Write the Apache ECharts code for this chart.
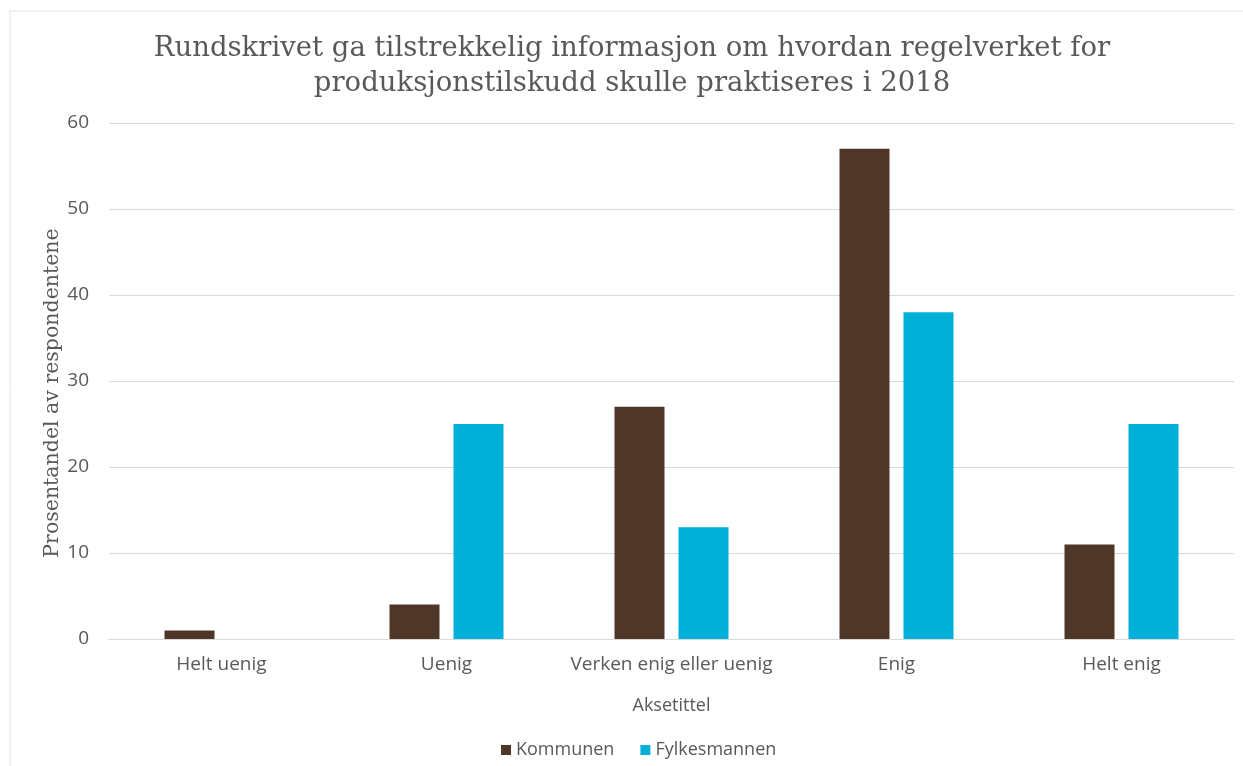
<!DOCTYPE html>
<html><head><meta charset="utf-8">
<script src="https://cdn.jsdelivr.net/npm/echarts@6/dist/echarts.min.js"></script>
<style>html,body{margin:0;padding:0;background:#fff}#c{width:1243px;height:766px}</style>
</head><body><div id="c"></div>
<script>
const categories = ['Helt uenig', 'Uenig', 'Verken enig eller uenig', 'Enig', 'Helt enig'];
const kommunen = [1, 4, 27, 57, 11];
const fylkesmannen = [0, 25, 13, 38, 25];
const yTicks = [0, 10, 20, 30, 40, 50, 60];
const titleText = 'Rundskrivet ga tilstrekkelig informasjon om hvordan regelverket for\nproduksjonstilskudd skulle praktiseres i 2018';
const yName = 'Prosentandel av respondentene';

const chart = echarts.init(document.getElementById('c'), null, {renderer: 'canvas'});
const sans = '"Open Sans", "Liberation Sans", sans-serif';
const serif = '"DejaVu Serif", "Liberation Serif", serif';
chart.setOption({
  animation: false,
  graphic: [
    {type: 'line', shape: {x1: 10, y1: 11, x2: 1243, y2: 11}, style: {stroke: '#e3e3e3', lineWidth: 1}, silent: true},
    {type: 'line', shape: {x1: 10, y1: 11, x2: 10, y2: 766}, style: {stroke: '#e3e3e3', lineWidth: 1}, silent: true},
    {type: 'text', x: 632, y: 66, silent: true,
     style: {text: titleText, fontFamily: serif, fontSize: 27.5, lineHeight: 35, fill: '#595959',
             textAlign: 'center', textVerticalAlign: 'middle'}},
    {type: 'text', x: 53, y: 393, rotation: Math.PI / 2, silent: true,
     style: {text: yName, fontFamily: serif, fontSize: 20.5, fill: '#595959',
             textAlign: 'center', textVerticalAlign: 'middle'}}
  ],
  legend: {
    bottom: 2, left: 496, itemWidth: 10, itemHeight: 10, itemGap: 26,
    icon: 'rect',
    textStyle: {fontFamily: sans, fontSize: 18, color: '#595959'},
    data: ['Kommunen', 'Fylkesmannen']
  },
  grid: {left: 109, right: 9, top: 123, bottom: 127, containLabel: false},
  xAxis: {
    type: 'category', data: categories,
    name: 'Aksetittel', nameLocation: 'middle', nameGap: 58,
    nameTextStyle: {fontFamily: sans, fontSize: 18, color: '#595959'},
    axisLine: {lineStyle: {color: '#d9d9d9'}},
    axisTick: {show: false},
    axisLabel: {fontFamily: sans, fontSize: 19, color: '#595959', margin: 16, interval: 0}
  },
  yAxis: {
    type: 'value', min: yTicks[0], max: yTicks[yTicks.length - 1], interval: 10,
    axisLine: {show: false}, axisTick: {show: false},
    axisLabel: {fontFamily: sans, fontSize: 19, color: '#595959', margin: 20},
    splitLine: {lineStyle: {color: '#d9d9d9'}}
  },
  series: [
    {name: 'Kommunen', type: 'bar', data: kommunen, barWidth: 50, barGap: '28%',
     itemStyle: {color: '#4e3629'}},
    {name: 'Fylkesmannen', type: 'bar', data: fylkesmannen, barWidth: 50,
     itemStyle: {color: '#00b0d8'}}
  ]
});
</script></body></html>
